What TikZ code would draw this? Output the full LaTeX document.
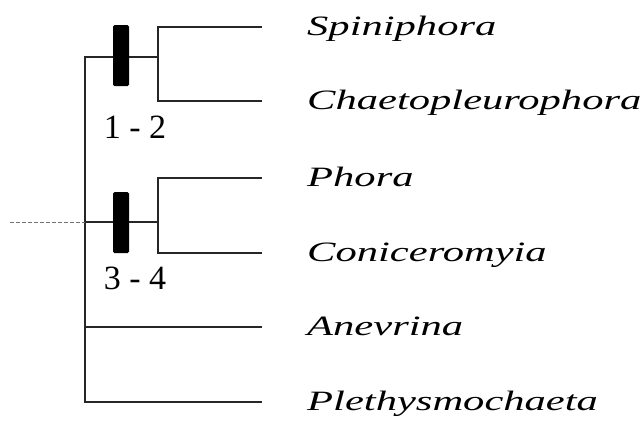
\documentclass[tikz,border=0pt]{standalone}
\usepackage{fontspec}
\setmainfont{Liberation Serif}
\newfontfamily\taxfont[FakeStretch=1.52]{Liberation Serif}
\begin{document}
\begin{tikzpicture}[x=1pt,y=-1pt,
  branch/.style={draw=black!85,line width=1.2pt},
  rootline/.style={draw=black!55,line width=0.8pt,dash pattern=on 4pt off 2pt},
  taxon/.style={anchor=base west,inner sep=0pt,font=\taxfont\itshape\fontsize{28}{28}\selectfont},
  synapo/.style={fill=black,draw=none,rounded corners=1.5pt,minimum width=16pt,minimum height=61pt,inner sep=0pt},
  charlabel/.style={anchor=base,inner sep=0pt,font=\fontsize{34}{34}\selectfont}]
\useasboundingbox (0,0) rectangle (642,421);
% leaf tips
\coordinate (tA) at (262,27);
\coordinate (tB) at (262,101);
\coordinate (tC) at (262,178);
\coordinate (tD) at (262,253);
\coordinate (tE) at (262,327);
\coordinate (tF) at (262,402);
% internal nodes
\coordinate (n1) at (158,57);
\coordinate (n2) at (158,222);
\coordinate (root) at (85,222);
\coordinate (base) at (10,222);
% taxa
\node[taxon] (A) at (307,35.5) {Spiniphora};
\node[taxon] (B) at (307,109.5) {Chaetopleurophora};
\node[taxon] (C) at (307,186.5) {Phora};
\node[taxon] (D) at (307,261.5) {Coniceromyia};
\node[taxon] (E) at (307,335.5) {Anevrina};
\node[taxon] (F) at (307,410) {Plethysmochaeta};
% branches
\draw[branch] (tA) -| (n1) |- (tB);
\draw[branch] (tC) -| (n2) |- (tD);
\draw[branch] (n1) -- (root |- n1) -- (root |- tF) -- (tF);
\draw[branch] (n2) -- (root);
\draw[branch] (root |- tE) -- (tE);
\draw[rootline] (base) -- (root);
% synapomorphy bars
\node[synapo] (bar1) at (121,55.5) {};
\node[synapo] (bar2) at (121,222.5) {};
\node[charlabel] (l1) at (135,138) {1 - 2};
\node[charlabel] (l2) at (135,289) {3 - 4};
\end{tikzpicture}
\end{document}
